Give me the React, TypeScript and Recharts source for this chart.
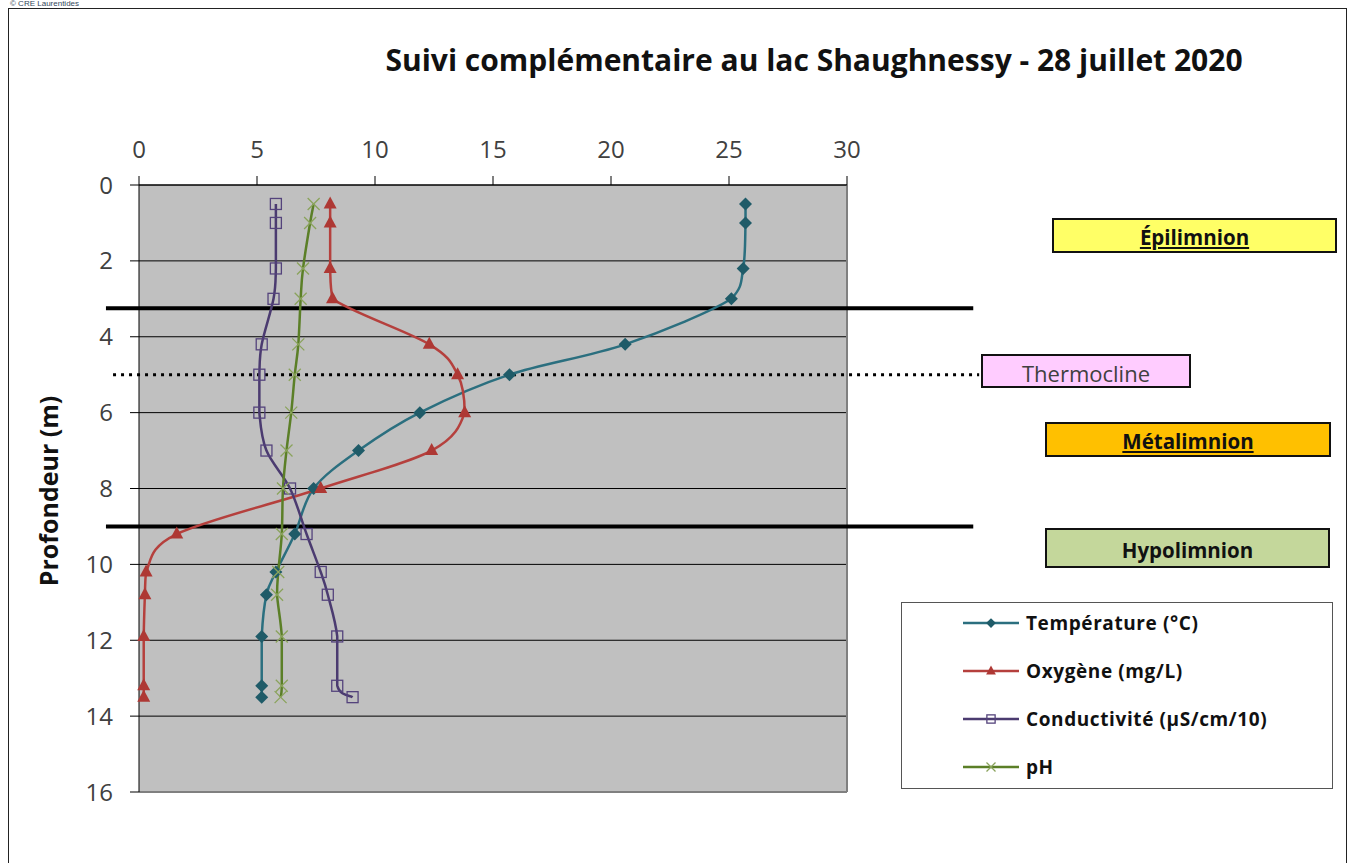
import React from 'react';
import {
  LineChart,
  Line,
  XAxis,
  YAxis,
  CartesianGrid,
  ReferenceLine,
} from 'recharts';

// depth (m) of each sampling point
const depths = [0.5, 1.0, 2.2, 3.0, 4.2, 5.0, 6.0, 7.0, 8.0, 9.2, 10.2, 10.8, 11.9, 13.2, 13.5];
const temperature = [25.7, 25.7, 25.6, 25.1, 20.6, 15.7, 11.9, 9.3, 7.4, 6.6, 5.8, 5.4, 5.2, 5.2, 5.2];
const oxygen = [8.1, 8.1, 8.1, 8.2, 12.3, 13.5, 13.8, 12.4, 7.7, 1.6, 0.3, 0.25, 0.2, 0.2, 0.2];
const conductivity = [5.8, 5.8, 5.8, 5.7, 5.2, 5.1, 5.1, 5.4, 6.4, 7.1, 7.7, 8.0, 8.4, 8.4, 9.05];
const ph = [7.4, 7.25, 6.95, 6.85, 6.75, 6.6, 6.45, 6.25, 6.1, 6.05, 5.9, 5.85, 6.05, 6.05, 6.0];

const xTicks = [0, 5, 10, 15, 20, 25, 30];
const yTicks = [0, 2, 4, 6, 8, 10, 12, 14, 16];

// layer boundaries (m)
const epiLimit = 3.25;
const hypoLimit = 9.0;
const thermocline = 5.0;

const rows = depths.map((d, i) => ({
  depth: d,
  temp: temperature[i],
  oxy: oxygen[i],
  cond: conductivity[i],
  ph: ph[i],
}));

const TICK_FONT = "'Open Sans', sans-serif";
const BOLD_FONT = "'Open Sans', sans-serif";

type Marker = 'diamond' | 'triangle' | 'square' | 'cross';

const series: { key: string; name: string; color: string; markColor: string; marker: Marker }[] = [
  { key: 'temp', name: 'Température (°C)', color: '#2b6f7f', markColor: '#1f5b68', marker: 'diamond' },
  { key: 'oxy', name: 'Oxygène (mg/L)', color: '#b5403d', markColor: '#ae3834', marker: 'triangle' },
  { key: 'cond', name: 'Conductivité (µS/cm/10)', color: '#4b3b70', markColor: '#54437c', marker: 'square' },
  { key: 'ph', name: 'pH', color: '#5b7f27', markColor: '#8aa35c', marker: 'cross' },
];

const clamp = (v: number, a: number, b: number) => Math.min(Math.max(v, Math.min(a, b)), Math.max(a, b));

// Excel-like smoothed line: Catmull-Rom beziers, control points kept inside each segment's box
function excelSmooth(context: any) {
  let pts: [number, number][] = [];
  return {
    areaStart() {},
    areaEnd() {},
    lineStart() {
      pts = [];
    },
    point(x: number, y: number) {
      pts.push([+x, +y]);
    },
    lineEnd() {
      if (!pts.length) return;
      context.moveTo(pts[0][0], pts[0][1]);
      for (let i = 0; i < pts.length - 1; i++) {
        const p0 = pts[i - 1] || pts[i];
        const p1 = pts[i];
        const p2 = pts[i + 1];
        const p3 = pts[i + 2] || p2;
        context.bezierCurveTo(
          clamp(p1[0] + (p2[0] - p0[0]) / 6, p1[0], p2[0]),
          clamp(p1[1] + (p2[1] - p0[1]) / 6, p1[1], p2[1]),
          clamp(p2[0] - (p3[0] - p1[0]) / 6, p1[0], p2[0]),
          clamp(p2[1] - (p3[1] - p1[1]) / 6, p1[1], p2[1]),
          p2[0],
          p2[1],
        );
      }
    },
  };
}

function MarkerShape({ type, cx, cy, color, s = 1 }: { type: Marker; cx: number; cy: number; color: string; s?: number }) {
  if (type === 'diamond') {
    const d = 6.5 * s;
    return <path d={`M${cx},${cy - d}L${cx + d},${cy}L${cx},${cy + d}L${cx - d},${cy}Z`} fill={color} />;
  }
  if (type === 'triangle') {
    return <path d={`M${cx},${cy - 7.5 * s}L${cx + 6.5 * s},${cy + 4.5 * s}L${cx - 6.5 * s},${cy + 4.5 * s}Z`} fill={color} />;
  }
  if (type === 'square') {
    const h = 5.5 * s;
    return <rect x={cx - h} y={cy - h} width={2 * h} height={2 * h} fill="none" stroke={color} strokeWidth={1.3} />;
  }
  const c = 6 * s;
  return (
    <path
      d={`M${cx - c},${cy - c}L${cx + c},${cy + c}M${cx + c},${cy - c}L${cx - c},${cy + c}`}
      stroke={color}
      strokeWidth={1.3}
      fill="none"
    />
  );
}

const zoneBox = (left: number, top: number, w: number, h: number, bg: string): React.CSSProperties => ({
  position: 'absolute',
  left,
  top,
  width: w,
  height: h,
  background: bg,
  border: '2px solid #111',
  boxSizing: 'border-box',
  display: 'flex',
  alignItems: 'center',
  justifyContent: 'center',
  paddingTop: 3,
  fontFamily: BOLD_FONT,
  fontSize: 20.5,
  fontWeight: 700,
  color: '#111',
});

export default function App() {
  return (
    <div style={{ position: 'absolute', left: 0, top: 0, width: 1353, height: 863, overflow: 'hidden', background: '#fff' }}>
      <div
        style={{
          position: 'absolute',
          left: 10,
          top: 0,
          fontFamily: "'Liberation Sans', Arial, sans-serif",
          fontSize: 8,
          lineHeight: '8px',
          color: '#33475b',
        }}
      >
        © CRE Laurentides
      </div>
      <div
        style={{
          position: 'absolute',
          left: 8,
          top: 8,
          width: 1339,
          height: 900,
          border: '1.5px solid #222',
          boxSizing: 'border-box',
        }}
      />

      <div style={{ position: 'absolute', left: 0, top: 0 }}>
        <LineChart
          width={1353}
          height={863}
          layout="vertical"
          data={rows}
          margin={{ top: 184, right: 506, bottom: 71, left: 138 }}
        >
          <CartesianGrid vertical={false} stroke="#000" fill="#c0c0c0" fillOpacity={1} />
          <XAxis
            type="number"
            orientation="top"
            domain={[0, 30]}
            ticks={xTicks}
            interval={0}
            height={1}
            tickSize={9}
            tickMargin={18}
            axisLine={{ stroke: '#000' }}
            tickLine={{ stroke: '#000' }}
            tick={{ fontSize: 24, fill: '#404040', fontFamily: TICK_FONT }}
          />
          <YAxis
            type="number"
            dataKey="depth"
            domain={[0, 16]}
            ticks={yTicks}
            interval={0}
            width={1}
            tickSize={9}
            tickMargin={17}
            axisLine={{ stroke: '#000' }}
            tickLine={{ stroke: '#000' }}
            tick={{ fontSize: 24, fill: '#404040', fontFamily: TICK_FONT }}
          />
          <ReferenceLine x={30} stroke="#808080" strokeWidth={2} />
          <ReferenceLine y={16} stroke="#808080" strokeWidth={2} />
          <ReferenceLine
            segment={[{ x: -1.4, y: epiLimit }, { x: 35.35, y: epiLimit }]}
            stroke="#000"
            strokeWidth={4}
            ifOverflow="visible"
          />
          <ReferenceLine
            segment={[{ x: -1.4, y: hypoLimit }, { x: 35.35, y: hypoLimit }]}
            stroke="#000"
            strokeWidth={4}
            ifOverflow="visible"
          />
          <ReferenceLine
            segment={[{ x: -1.1, y: thermocline }, { x: 35.6, y: thermocline }]}
            stroke="#000"
            strokeWidth={3}
            strokeDasharray="3 5"
            ifOverflow="visible"
          />
          {series.map((s) => (
            <Line
              key={s.key}
              dataKey={s.key}
              name={s.name}
              type={excelSmooth as any}
              stroke={s.color}
              strokeWidth={2.5}
              isAnimationActive={false}
              dot={(p: any) => (
                <MarkerShape key={`${s.key}-${p.index}`} type={s.marker} cx={p.cx} cy={p.cy} color={s.markColor} />
              )}
              activeDot={false}
            />
          ))}
        </LineChart>
      </div>

      <div
        style={{
          position: 'absolute',
          left: 300,
          width: 1028,
          top: 41,
          textAlign: 'center',
          fontFamily: BOLD_FONT,
          fontWeight: 700,
          fontSize: 30,
          lineHeight: '38px',
          color: '#111',
          whiteSpace: 'nowrap',
        }}
      >
        Suivi complémentaire au lac Shaughnessy - 28 juillet 2020
      </div>

      <div
        style={{
          position: 'absolute',
          left: 48,
          top: 491,
          transform: 'translate(-50%, -50%) rotate(-90deg)',
          fontFamily: BOLD_FONT,
          fontWeight: 700,
          fontSize: 25,
          color: '#111',
          whiteSpace: 'nowrap',
        }}
      >
        Profondeur (m)
      </div>

      <div style={zoneBox(1052, 218, 285, 35, '#ffff66')}>
        <span style={{ textDecoration: 'underline' }}>Épilimnion</span>
      </div>
      <div style={{ ...zoneBox(981, 354, 210, 34, '#ffccff'), fontWeight: 400, fontSize: 22, color: '#404040' }}>
        Thermocline
      </div>
      <div style={zoneBox(1045, 422, 286, 35, '#ffc000')}>
        <span style={{ textDecoration: 'underline' }}>Métalimnion</span>
      </div>
      <div style={zoneBox(1045, 528, 285, 40, '#c4d79b')}>Hypolimnion</div>

      <div
        style={{
          position: 'absolute',
          left: 901,
          top: 602,
          width: 432,
          height: 187,
          border: '1.5px solid #555',
          boxSizing: 'border-box',
          background: '#fff',
        }}
      >
        {series.map((s, i) => (
          <div
            key={s.key}
            style={{
              position: 'absolute',
              left: 61,
              top: 20 + i * 48 - 12,
              height: 24,
              display: 'flex',
              alignItems: 'center',
              fontFamily: BOLD_FONT,
              fontWeight: 700,
              fontSize: 19,
              letterSpacing: 0.6,
              color: '#111',
              whiteSpace: 'nowrap',
            }}
          >
            <svg width={56} height={24} style={{ marginRight: 7 }}>
              <line x1={0} y1={12} x2={56} y2={12} stroke={s.color} strokeWidth={2.5} />
              <MarkerShape type={s.marker} cx={28} cy={12} color={s.markColor} s={0.75} />
            </svg>
            {s.name}
          </div>
        ))}
      </div>
    </div>
  );
}
